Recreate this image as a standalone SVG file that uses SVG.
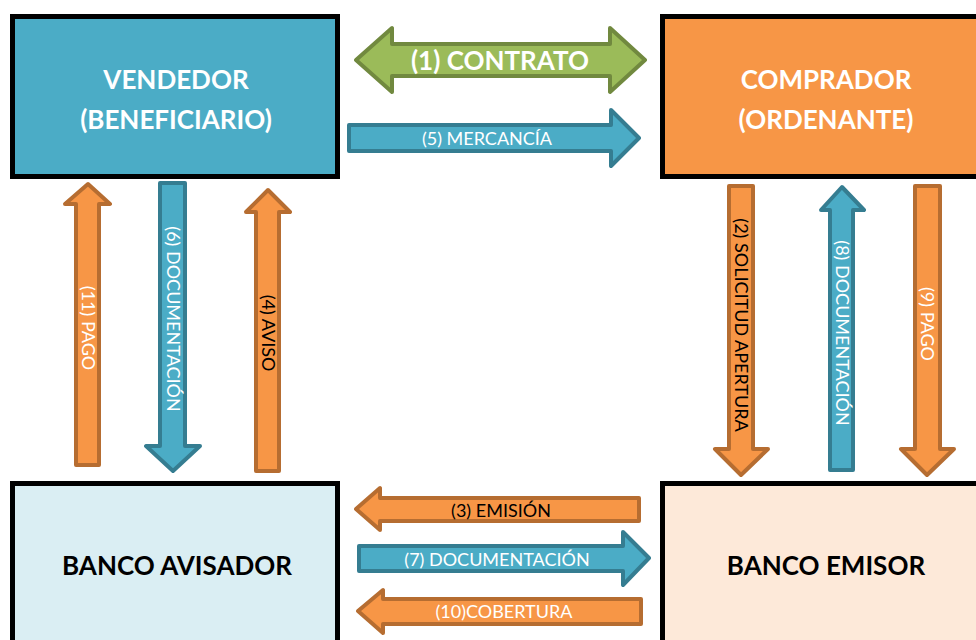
<svg xmlns="http://www.w3.org/2000/svg" width="976" height="640" viewBox="0 0 976 640">
<style>
.box{stroke:#000;stroke-width:5}
.ttl{font-family:Lato,"Open Sans","Liberation Sans",sans-serif;font-weight:bold;font-size:26px;text-anchor:middle}
.lbl{font-family:Lato,"Open Sans","Liberation Sans",sans-serif;font-size:18px;text-anchor:middle}
.or{fill:#F79646;stroke:#B66D31;stroke-width:4;stroke-linejoin:round}
.bl{fill:#4BACC6;stroke:#357D91;stroke-width:4;stroke-linejoin:round}
.gr{fill:#9BBB59;stroke:#71893F;stroke-width:4;stroke-linejoin:round}
.w{fill:#fff}
.k{fill:#000}
</style>
<rect width="976" height="640" fill="#fff"/>
<g id="vendedor">
<rect class="box" x="12.5" y="16.5" width="325" height="160" fill="#4BACC6"/>
<text class="ttl w" x="176" y="89">VENDEDOR</text>
<text class="ttl w" x="176" y="129">(BENEFICIARIO)</text>
</g>
<g id="comprador">
<rect class="box" x="662.5" y="16.5" width="340" height="160" fill="#F79646"/>
<text class="ttl w" x="826" y="89">COMPRADOR</text>
<text class="ttl w" x="826" y="129">(ORDENANTE)</text>
</g>
<g id="banco-avisador">
<rect class="box" x="12.5" y="483.5" width="325" height="200" fill="#DAEEF3"/>
<text class="ttl k" x="177" y="575">BANCO AVISADOR</text>
</g>
<g id="banco-emisor">
<rect class="box" x="662.5" y="483.5" width="340" height="200" fill="#FDE9D9"/>
<text class="ttl k" x="826" y="575">BANCO EMISOR</text>
</g>
<g id="connectors">
<path class="gr" d="M356,60 L392,28 L392,44 L610,44 L610,28 L645,60 L610,92 L610,76 L392,76 L392,92 Z"/>
<text class="ttl w" x="500" y="70">(1) CONTRATO</text>
<path class="bl" d="M349,125 L611,125 L611,110 L639,138 L611,166 L611,151 L349,151 Z"/>
<text class="lbl w" x="487" y="145">(5) MERCANCÍA</text>
<path class="or" d="M88,184 L110,204 L99,204 L99,465 L76,465 L76,204 L65,204 Z"/>
<text class="lbl w" transform="translate(88,328) rotate(90)" dy="0.35em">(11) PAGO</text>
<path class="bl" d="M160,183 L185,183 L185,446 L200,446 L173,471 L146,446 L160,446 Z"/>
<text class="lbl w" transform="translate(173,319) rotate(90)" dy="0.35em">(6) DOCUMENTACIÓN</text>
<path class="or" d="M268,190 L290,212 L279,212 L279,471 L256,471 L256,212 L246,212 Z"/>
<text class="lbl k" transform="translate(268,333) rotate(90)" dy="0.35em">(4) AVISO</text>
<path class="or" d="M729,186 L753,186 L753,449 L768,449 L741,475 L715,449 L729,449 Z"/>
<text class="lbl k" transform="translate(741,325) rotate(90)" dy="0.35em">(2) SOLICITUD APERTURA</text>
<path class="bl" d="M842,187 L864,210 L853,210 L853,470 L830,470 L830,210 L821,210 Z"/>
<text class="lbl w" transform="translate(842,333) rotate(90)" dy="0.35em">(8) DOCUMENTACIÓN</text>
<path class="or" d="M915,186 L940,186 L940,449 L954,449 L927,475 L901,449 L915,449 Z"/>
<text class="lbl w" transform="translate(927,324) rotate(90)" dy="0.35em">(9) PAGO</text>
<path class="or" d="M356,509 L380,488 L380,498 L639,498 L639,521 L380,521 L380,530 Z"/>
<text class="lbl k" x="501" y="517">(3) EMISIÓN</text>
<path class="bl" d="M359,546 L623,546 L623,532 L649,558 L623,585 L623,571 L359,571 Z"/>
<text class="lbl w" x="497" y="566">(7) DOCUMENTACIÓN</text>
<path class="or" d="M358,611 L383,590 L383,599 L641,599 L641,624 L383,624 L383,633 Z"/>
<text class="lbl w" x="504" y="618">(10)COBERTURA</text>
</g>
</svg>
